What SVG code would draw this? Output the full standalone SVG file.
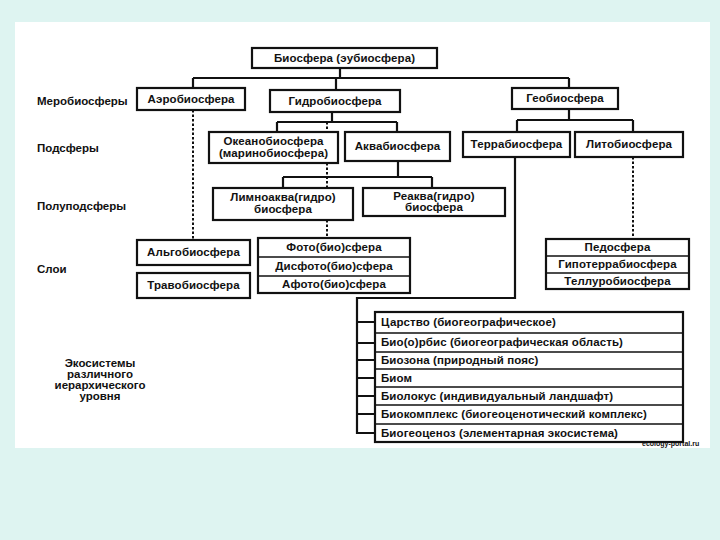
<svg xmlns="http://www.w3.org/2000/svg" width="720" height="540" viewBox="0 0 720 540">
<style>
.bg{fill:#def4f1}
.panel{fill:#ffffff}
.box{fill:#ffffff;stroke:#111;stroke-width:2.2}
.div{stroke:#111;stroke-width:1.6;fill:none}
.t{font-family:"Liberation Sans",Arial,sans-serif;font-size:11.5px;font-weight:bold;fill:#111;letter-spacing:0.1px}
.c{text-anchor:middle}
.lbl{font-family:"Liberation Sans",Arial,sans-serif;font-size:11.5px;font-weight:bold;fill:#111}
.ln{stroke:#111;stroke-width:2.2;fill:none}
.dot{stroke:#111;stroke-width:2;fill:none;stroke-dasharray:2.5 2}
.wm{font-family:"Liberation Sans",Arial,sans-serif;font-size:7px;font-weight:bold;fill:#111}
</style>
<rect class="bg" x="0" y="0" width="720" height="540"/>
<rect class="panel" x="15" y="22" width="695" height="426"/>

<g id="connectors">
  <path class="ln" d="M340 68 V78 M193 78 H569 M193 78 V88 M336 78 V90 M569 78 V88"/>
  <path class="ln" d="M332 112 V122 M277 122 H397 M277 122 V132 M397 122 V132"/>
  <path class="ln" d="M569 109 V120 M517 120 H633 M517 120 V132 M633 120 V132"/>
  <path class="ln" d="M398 161 V177 M283 177 H432 M283 177 V188 M432 177 V188"/>
  <path class="dot" d="M327 122 V132 M327 163 V188 M327 220 V238"/>
  <path class="dot" d="M193 110 V240"/>
  <path class="dot" d="M633 157 V239"/>
  <path class="ln" d="M515 157 V298 H357 V434"/>
  <path class="ln" d="M357 322 H375 M357 343 H375 M357 360 H375 M357 378 H375 M357 396 H375 M357 414 H375 M357 433 H375"/>
</g>

<g id="biosphere">
  <rect class="box" x="252" y="48" width="185" height="20"/>
  <text class="t c" x="344.5" y="62">Биосфера (эубиосфера)</text>
</g>
<g id="aerobiosphere">
  <rect class="box" x="137" y="88" width="108" height="22"/>
  <text class="t c" x="191" y="103">Аэробиосфера</text>
</g>
<g id="hydrobiosphere">
  <rect class="box" x="270" y="90" width="130" height="22"/>
  <text class="t c" x="335" y="105">Гидробиосфера</text>
</g>
<g id="geobiosphere">
  <rect class="box" x="512" y="88" width="106" height="21"/>
  <text class="t c" x="565" y="102">Геобиосфера</text>
</g>
<g id="oceanobiosphere">
  <rect class="box" x="209" y="132" width="129" height="31"/>
  <text class="t c" x="273.5" y="145">Океанобиосфера</text>
  <text class="t c" x="273.5" y="157">(маринобиосфера)</text>
</g>
<g id="aquabiosphere">
  <rect class="box" x="345" y="132" width="105" height="29"/>
  <text class="t c" x="397.5" y="150">Аквабиосфера</text>
</g>
<g id="terrabiosphere">
  <rect class="box" x="463" y="132" width="107" height="25"/>
  <text class="t c" x="516.5" y="148">Террабиосфера</text>
</g>
<g id="litobiosphere">
  <rect class="box" x="575" y="132" width="108" height="25"/>
  <text class="t c" x="629" y="148">Литобиосфера</text>
</g>
<g id="limnoaqua">
  <rect class="box" x="213" y="188" width="140" height="32"/>
  <text class="t c" x="283" y="201">Лимноаква(гидро)</text>
  <text class="t c" x="283" y="213">биосфера</text>
</g>
<g id="reoaqua">
  <rect class="box" x="363" y="188" width="142" height="28"/>
  <text class="t c" x="434" y="200">Реаква(гидро)</text>
  <text class="t c" x="434" y="211">биосфера</text>
</g>
<g id="algobiosphere">
  <rect class="box" x="137" y="240" width="113" height="25"/>
  <text class="t c" x="193.5" y="256">Альгобиосфера</text>
</g>
<g id="travobiosphere">
  <rect class="box" x="137" y="273" width="113" height="25"/>
  <text class="t c" x="193.5" y="289">Травобиосфера</text>
</g>
<g id="photo-layers">
  <rect class="box" x="258" y="238" width="152" height="55"/>
  <path class="div" d="M258 257 H410 M258 276 H410"/>
  <text class="t c" x="334" y="251">Фото(био)сфера</text>
  <text class="t c" x="334" y="270">Дисфото(био)сфера</text>
  <text class="t c" x="334" y="288">Афото(био)сфера</text>
</g>
<g id="pedo-layers">
  <rect class="box" x="546" y="239" width="143" height="50"/>
  <path class="div" d="M546 256 H689 M546 273 H689"/>
  <text class="t c" x="617.5" y="251">Педосфера</text>
  <text class="t c" x="617.5" y="268">Гипотеррабиосфера</text>
  <text class="t c" x="617.5" y="285">Теллуробиосфера</text>
</g>
<g id="ecosystems">
  <rect class="box" x="375" y="312" width="308" height="130"/>
  <path class="div" d="M375 333 H683 M375 352 H683 M375 369 H683 M375 387 H683 M375 405 H683 M375 424 H683"/>
  <text class="t" x="381" y="326">Царство (биогеографическое)</text>
  <text class="t" x="381" y="346">Био(о)рбис (биогеографическая область)</text>
  <text class="t" x="381" y="364">Биозона (природный пояс)</text>
  <text class="t" x="381" y="382">Биом</text>
  <text class="t" x="381" y="400">Биолокус (индивидуальный ландшафт)</text>
  <text class="t" x="381" y="418">Биокомплекс (биогеоценотический комплекс)</text>
  <text class="t" x="381" y="437">Биогеоценоз (элементарная экосистема)</text>
</g>
<g id="level-labels">
  <text class="lbl" x="37" y="105">Меробиосферы</text>
  <text class="lbl" x="37" y="152">Подсферы</text>
  <text class="lbl" x="37" y="210">Полуподсферы</text>
  <text class="lbl" x="37" y="273">Слои</text>
  <text class="lbl c" x="100" y="367">Экосистемы</text>
  <text class="lbl c" x="100" y="378">различного</text>
  <text class="lbl c" x="100" y="389">иерархического</text>
  <text class="lbl c" x="100" y="400">уровня</text>
</g>
<text class="wm" x="642" y="446">ecology-portal.ru</text>
</svg>
